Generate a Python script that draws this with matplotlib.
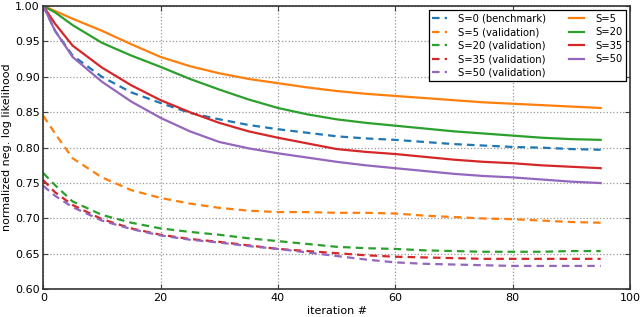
import matplotlib
matplotlib.use('Agg')
import matplotlib.pyplot as plt

#data
iters = [0, 2, 5, 10, 15, 20, 25, 30, 35, 40, 45, 50, 55, 60, 65, 70, 75, 80, 85, 90, 95]

bench = [1.0, 0.965, 0.930, 0.900, 0.878, 0.863, 0.849, 0.840, 0.832, 0.826, 0.821,
         0.816, 0.813, 0.811, 0.808, 0.805, 0.803, 0.801, 0.800, 0.798, 0.797]
s5 = [1.0, 0.993, 0.982, 0.965, 0.946, 0.928, 0.915, 0.905, 0.897, 0.891, 0.885,
      0.880, 0.876, 0.873, 0.870, 0.867, 0.864, 0.862, 0.860, 0.858, 0.856]
s20 = [1.0, 0.991, 0.973, 0.948, 0.930, 0.914, 0.897, 0.882, 0.868, 0.856, 0.847,
       0.840, 0.835, 0.831, 0.827, 0.823, 0.820, 0.817, 0.814, 0.812, 0.811]
s35 = [1.0, 0.975, 0.944, 0.913, 0.888, 0.867, 0.850, 0.835, 0.823, 0.814, 0.806,
       0.798, 0.794, 0.791, 0.787, 0.783, 0.780, 0.778, 0.775, 0.773, 0.771]
s50 = [1.0, 0.965, 0.928, 0.893, 0.865, 0.842, 0.823, 0.808, 0.799, 0.792, 0.786,
       0.780, 0.775, 0.771, 0.767, 0.763, 0.760, 0.758, 0.755, 0.752, 0.750]

s5_val = [0.845, 0.820, 0.785, 0.758, 0.740, 0.729, 0.721, 0.715, 0.711, 0.709, 0.709,
          0.708, 0.708, 0.707, 0.704, 0.702, 0.700, 0.699, 0.697, 0.695, 0.694]
s20_val = [0.764, 0.747, 0.724, 0.705, 0.694, 0.686, 0.681, 0.677, 0.672, 0.668, 0.664,
           0.660, 0.658, 0.657, 0.655, 0.654, 0.653, 0.653, 0.653, 0.654, 0.654]
s35_val = [0.754, 0.737, 0.719, 0.699, 0.686, 0.677, 0.671, 0.667, 0.662, 0.657, 0.654,
           0.651, 0.648, 0.646, 0.645, 0.644, 0.643, 0.643, 0.643, 0.643, 0.643]
s50_val = [0.746, 0.732, 0.716, 0.697, 0.685, 0.676, 0.670, 0.666, 0.661, 0.657, 0.652,
           0.647, 0.642, 0.638, 0.636, 0.635, 0.634, 0.633, 0.633, 0.633, 0.633]

#colors
blue, orange, green, red, purple = '#1f77b4', '#ff7f0e', '#2ca02c', '#d62728', '#9467bd'

fig = plt.figure(figsize=(6.4, 3.17), dpi=100)
ax = fig.add_axes([43.3/640, 1-289.3/317, (630-43.3)/640, (289.3-6)/317])

dash = (0, (3.4, 2.3))
lw = 1.6
ax.plot(iters, bench, color=blue, ls=dash, lw=lw, label='S=0 (benchmark)')
ax.plot(iters, s5_val, color=orange, ls=dash, lw=lw, label='S=5 (validation)')
ax.plot(iters, s20_val, color=green, ls=dash, lw=lw, label='S=20 (validation)')
ax.plot(iters, s35_val, color=red, ls=dash, lw=lw, label='S=35 (validation)')
ax.plot(iters, s50_val, color=purple, ls=dash, lw=lw, label='S=50 (validation)')
ax.plot(iters, s5, color=orange, lw=lw, label='S=5')
ax.plot(iters, s20, color=green, lw=lw, label='S=20')
ax.plot(iters, s35, color=red, lw=lw, label='S=35')
ax.plot(iters, s50, color=purple, lw=lw, label='S=50')

ax.set_xlim(0, 100)
ax.set_ylim(0.60, 1.00)
ax.set_xticks([0, 20, 40, 60, 80, 100])
ax.set_yticks([0.60, 0.65, 0.70, 0.75, 0.80, 0.85, 0.90, 0.95, 1.00])
ax.grid(True, color='0.6', linestyle=':', linewidth=0.9)
ax.tick_params(direction='in', top=True, right=True, labelsize=8, length=3.5,
               color='0.25', pad=2.5)
for sp in ax.spines.values():
    sp.set_linewidth(1.2)
    sp.set_color('0.2')

ax.set_xlabel('iteration #', fontsize=8, labelpad=2)
ax.set_ylabel('normalized neg. log likelihood', fontsize=8, labelpad=2)

leg = ax.legend(ncol=2, loc='upper right', fontsize=7.2, fancybox=False, framealpha=1,
                edgecolor='black', handlelength=1.5, columnspacing=2.3,
                borderaxespad=0.4, labelspacing=0.36, handletextpad=1.1,
                borderpad=0.35)
leg.get_frame().set_linewidth(0.9)

plt.savefig('out.png', dpi=100)
plt.close()
